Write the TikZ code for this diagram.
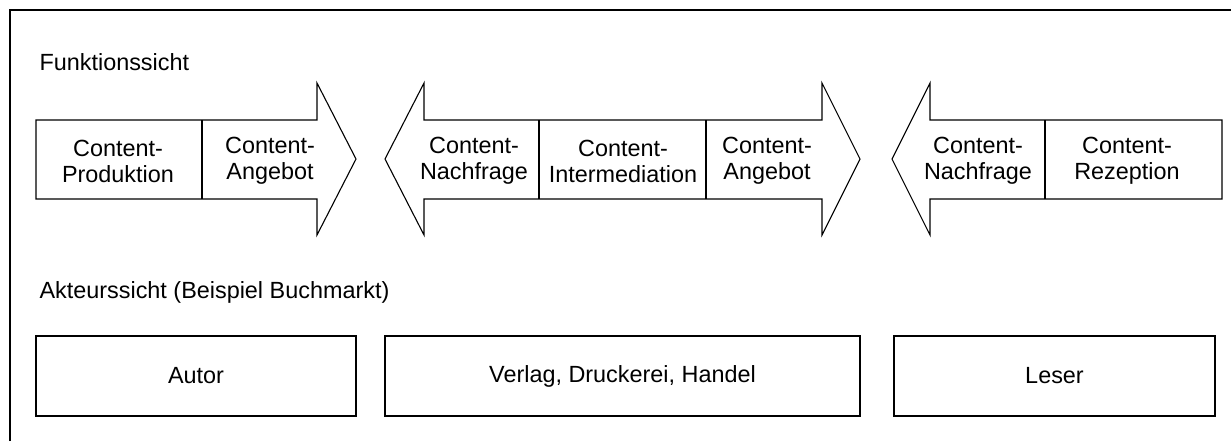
\documentclass[tikz,border=0pt]{standalone}
\usepackage{fontspec}
\setmainfont{Liberation Sans}
\begin{document}
\begin{tikzpicture}[x=0.5pt,y=-0.5pt,line width=0.55pt,
  txt/.style={font=\fontsize{11.7}{13}\selectfont,align=center,inner sep=0pt},
  head/.style={font=\fontsize{11.7}{13}\selectfont,anchor=west,inner sep=0pt},
  actor/.style={draw,font=\fontsize{11.7}{13}\selectfont,minimum height=40pt,inner sep=0pt},
  arrowshape/.style={draw,line join=miter}]
\useasboundingbox (0,0) rectangle (1231,441);
% frame
\draw[line width=1pt] (10,441) -- (10,10) -- (1231,10);
% headings
\node[head] (fs) at (39,62) {Funktionssicht};
\node[head] (as) at (39,292) {Akteurssicht (Beispiel Buchmarkt)};
% left arrow
\draw[arrowshape] (36,120) -- (317,120) -- (317,83) -- (356,159) -- (317,235) -- (317,199) -- (36,199) -- cycle;
\draw (202,120) -- (202,199);
% middle double arrow
\draw[arrowshape] (385,159) -- (424,83) -- (424,120) -- (822,120) -- (822,83) -- (860,159) -- (822,235) -- (822,199) -- (424,199) -- (424,235) -- cycle;
\draw (539,120) -- (539,199);
\draw (706,120) -- (706,199);
% right arrow
\draw[arrowshape] (892,159) -- (930,83) -- (930,120) -- (1222,120) -- (1222,199) -- (930,199) -- (930,235) -- cycle;
\draw (1045,120) -- (1045,199);
% labels
\node[txt] (prod) at (118,161) {Content-\\Produktion};
\node[txt] (ang1) at (270,161) {Content-\\Angebot};
\node[txt] (nach1) at (474,161) {Content-\\Nachfrage};
\node[txt] (inter) at (623,161) {Content-\\Intermediation};
\node[txt] (ang2) at (767,161) {Content-\\Angebot};
\node[txt] (nach2) at (978,161) {Content-\\Nachfrage};
\node[txt] (rez) at (1127,161) {Content-\\Rezeption};
% actors
\node[actor,minimum width=160pt] (autor) at (196,376) {Autor};
\node[actor,minimum width=237.5pt] (verlag) at (622.5,376) {Verlag, Druckerei, Handel};
\node[actor,minimum width=160.5pt] (leser) at (1054.5,376) {Leser};
\end{tikzpicture}
\end{document}
